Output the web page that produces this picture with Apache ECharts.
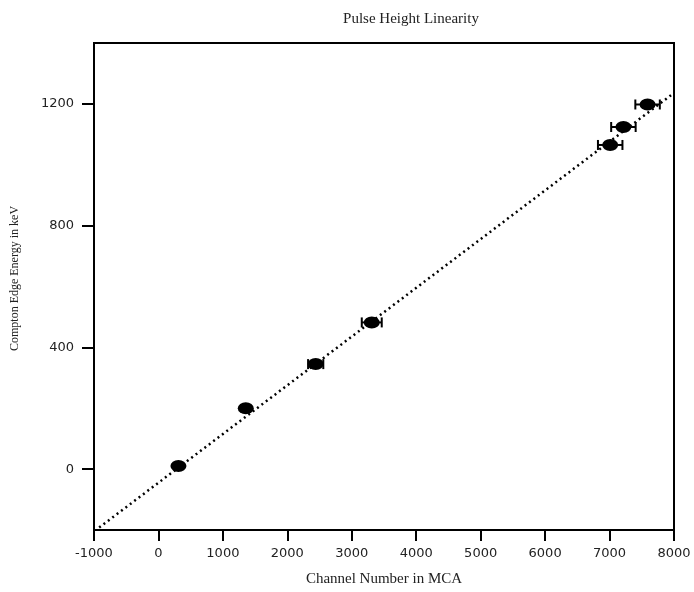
<!DOCTYPE html>
<html>
<head>
<meta charset="utf-8">
<script src="https://cdn.jsdelivr.net/npm/echarts@6/dist/echarts.min.js"></script>
<style>
  html, body { margin: 0; padding: 0; background: #fff; }
  #main { width: 694px; height: 592px; }
</style>
</head>
<body>
<div id="main"></div>
<script>
// measured points: channel number vs compton edge energy
var channel = [310, 1355, 2440, 3310, 7010, 7215, 7590]
var energy = [10, 200, 345, 482, 1065, 1124, 1198]
var channelErr = [0, 0, 118, 155, 190, 190, 190]

// dotted fit line, end points
var fitX = [-920, 8000]
var fitY = [-192, 1236]

var xTicks = [-1000, 8000, 1000]   // min, max, interval
var yTicks = [0, 400, 800, 1200]

var serif = 'Liberation Serif, Times New Roman, serif'
var sans = 'DejaVu Sans, sans-serif'

var chart = echarts.init(document.getElementById('main'))

var points = channel.map(function (c, i) { return [c, energy[i]] })
var bars = channel.map(function (c, i) { return [c, energy[i], channelErr[i]] })
var fit = fitX.map(function (x, i) { return [x, fitY[i]] })

function plain(v) { return String(v) }

var option = {
  animation: false,
  backgroundColor: '#fff',
  title: {
    text: 'Pulse Height Linearity',
    left: 406,
    top: 7,
    textAlign: 'center',
    textStyle: { fontFamily: serif, fontSize: 15, fontWeight: 'normal', color: '#222' }
  },
  grid: {
    left: 94, right: 20, top: 43, bottom: 59,
    show: true, borderColor: '#000', borderWidth: 2
  },
  xAxis: {
    type: 'value',
    min: xTicks[0], max: xTicks[1], interval: xTicks[2],
    name: 'Channel Number in MCA',
    nameLocation: 'middle',
    nameGap: 42,
    nameTextStyle: { fontFamily: serif, fontSize: 15, color: '#222' },
    axisLine: { show: true, onZero: false, lineStyle: { color: '#000', width: 2 } },
    axisTick: { show: true, length: 11, lineStyle: { color: '#000', width: 2 } },
    axisLabel: { margin: 17, fontFamily: sans, fontSize: 13, color: '#222', formatter: plain, showMinLabel: true, showMaxLabel: true },
    splitLine: { show: false }
  },
  yAxis: {
    type: 'value',
    min: -200, max: 1400,
    name: 'Compton Edge Energy in keV',
    nameLocation: 'middle',
    nameGap: 73,
    nameTextStyle: { fontFamily: serif, fontSize: 12, color: '#222', padding: [0, 0, 0, 16] },
    axisLine: { show: true, onZero: false, lineStyle: { color: '#000', width: 2 } },
    axisTick: { show: true, length: 12, customValues: yTicks, lineStyle: { color: '#000', width: 2 } },
    axisLabel: { margin: 20, fontFamily: sans, fontSize: 13, color: '#222', formatter: plain, customValues: yTicks },
    splitLine: { show: false }
  },
  series: [
    {
      type: 'line',
      data: fit,
      symbol: 'none',
      clip: true,
      lineStyle: { color: '#000', width: 2.5, type: [2, 3.5] },
      z: 1
    },
    {
      type: 'custom',
      data: bars,
      z: 2,
      renderItem: function (params, api) {
        var e = api.value(2)
        if (!e) return
        var lo = api.coord([api.value(0) - e, api.value(1)])
        var hi = api.coord([api.value(0) + e, api.value(1)])
        var h = 5
        var st = { stroke: '#000', lineWidth: 2 }
        return {
          type: 'group',
          children: [
            { type: 'line', shape: { x1: lo[0], y1: lo[1], x2: hi[0], y2: hi[1] }, style: st },
            { type: 'line', shape: { x1: lo[0], y1: lo[1] - h, x2: lo[0], y2: lo[1] + h }, style: st },
            { type: 'line', shape: { x1: hi[0], y1: hi[1] - h, x2: hi[0], y2: hi[1] + h }, style: st }
          ]
        }
      }
    },
    {
      type: 'scatter',
      data: points,
      symbol: 'circle',
      symbolSize: [16, 12],
      itemStyle: { color: '#000', opacity: 1 },
      z: 3
    }
  ]
}

chart.setOption(option)
</script>
</body>
</html>
